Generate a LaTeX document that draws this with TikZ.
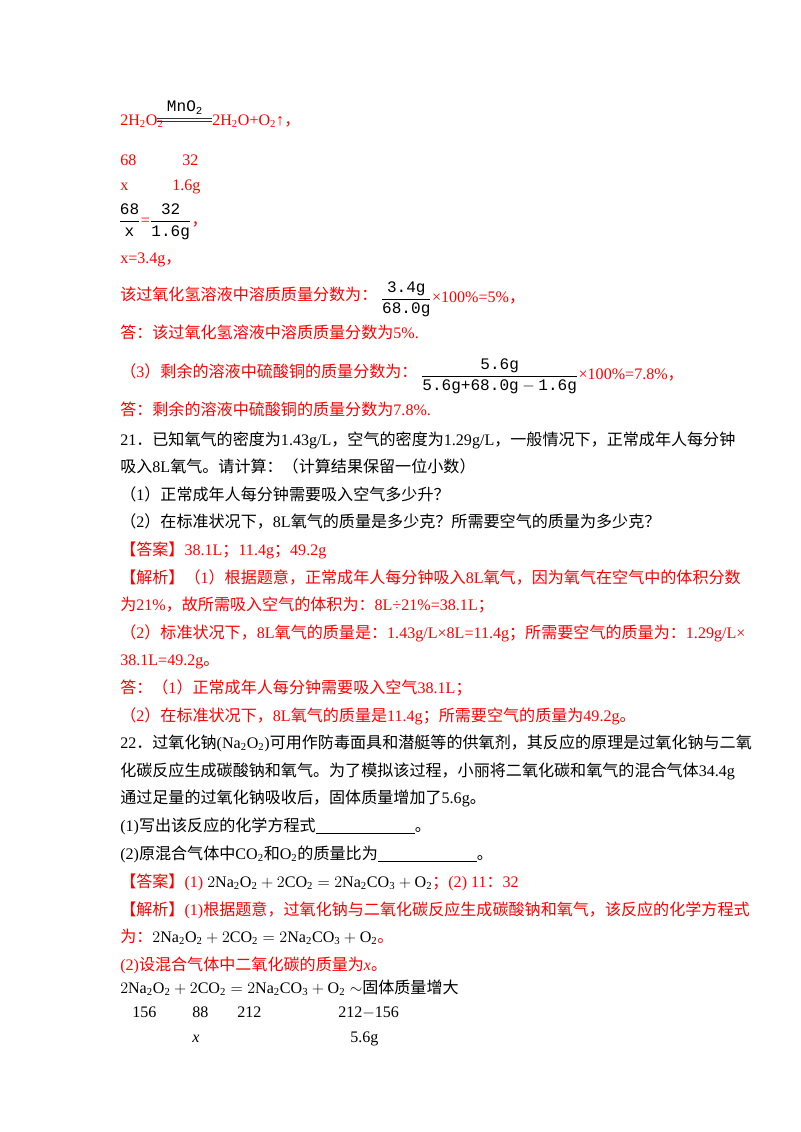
\documentclass[tikz,border=0pt]{standalone}
\usepackage{amsmath}
\usepackage{fontspec}
\setmainfont{Liberation Serif}
\setmonofont{Liberation Mono}
\newfontfamily\cjk{Noto Sans CJK SC}
% switch to the CJK font for CJK characters
\XeTeXinterchartokenstate=1
\newXeTeXintercharclass\cjkclass
\newcount\cc
\def\setcjkrange#1#2{\cc=#1 \loop\XeTeXcharclass\cc=\cjkclass \advance\cc 1 \ifnum\cc<#2 \repeat}
\setcjkrange{"4E00}{"A000}
\setcjkrange{"3000}{"3040}
\setcjkrange{"FF00}{"FF60}
\XeTeXinterchartoks 0 \cjkclass = {\begingroup\cjk}
\XeTeXinterchartoks 4095 \cjkclass = {\begingroup\cjk}
\XeTeXinterchartoks \cjkclass 0 = {\endgroup}
\XeTeXinterchartoks \cjkclass 4095 = {\endgroup}
\usetikzlibrary{positioning}

\tikzset{
  txt/.style={anchor=base west, inner sep=0pt, font=\fontsize{12}{14}\selectfont},
  ans/.style={txt, text=red},
  fr/.style={txt, anchor=west}
}
\newcommand{\ch}[1]{\ensuremath{\mathrm{#1}}}

\begin{document}
\begin{tikzpicture}[x=0.02625cm, y=-0.02625cm]
  \useasboundingbox (0,0) rectangle (800,1132);

  %% (2) answer of 20
  \node[ans] (eqa) at (120,125) {2H\textsubscript{2}O\textsubscript{2}};
  \coordinate (eql) at (157,120);
  \coordinate (eqm) at (212,120);
  \draw[black!80, line width=0.7pt] ([yshift=-1.3pt]eql) -- ([yshift=-1.3pt]eqm);
  \draw[black!80, line width=0.7pt] ([yshift=1.3pt]eql) -- ([yshift=1.3pt]eqm);
  \node[txt, anchor=south, inner sep=1pt] (mno) at (185,116) {\texttt{MnO\textsubscript{2}}};
  \node[ans] (eqb) at (212,125) {2H\textsubscript{2}O+O\textsubscript{2}↑，};

  \node[ans] (m1) at (120,165) {68};
  \node[ans] (m2) at (182,165) {32};
  \node[ans] (x1) at (120,190) {x};
  \node[ans] (x2) at (172,190) {1.6g};
  \node[fr] (pr) at (118,222) {$\dfrac{\texttt{68}}{\texttt{x}}$\textcolor{red}{=}$\dfrac{\texttt{32}}{\texttt{1.6g}}$\textcolor{red}{，}};
  \node[ans] (xs) at (120,263) {x=3.4g，};
  \node[ans] (p1) at (120,300) {该过氧化氢溶液中溶质质量分数为：};
  \node[fr, right=2pt of p1.east, anchor=west, yshift=-4pt] (p1f) {$\dfrac{\texttt{3.4g}}{\texttt{68.0g}}$\textcolor{red}{×100\%=5\%，}};
  \node[ans] (a1) at (120,338) {答：该过氧化氢溶液中溶质质量分数为5\%.};
  \node[ans] (p3) at (120,377) {（3）剩余的溶液中硫酸铜的质量分数为：};
  \node[fr, right=2pt of p3.east, anchor=west, yshift=-4pt] (p3f) {$\dfrac{\texttt{5.6g}}{\texttt{5.6g+68.0g}-\texttt{1.6g}}$\textcolor{red}{×100\%=7.8\%，}};
  \node[ans] (a3) at (120,415) {答：剩余的溶液中硫酸铜的质量分数为7.8\%.};

  %% 21
  \node[txt] (q21) at (120,445) {21．已知氧气的密度为1.43g/L，空气的密度为1.29g/L，一般情况下，正常成年人每分钟};
  \node[txt] (q21b) at (120,472) {吸入8L氧气。请计算：（计算结果保留一位小数）};
  \node[txt] (q21c) at (120,500) {（1）正常成年人每分钟需要吸入空气多少升？};
  \node[txt] (q21d) at (120,527) {（2）在标准状况下，8L氧气的质量是多少克？所需要空气的质量为多少克？};
  \node[ans] (k21) at (120,555) {【答案】38.1L；11.4g；49.2g};
  \node[ans] (j21) at (120,583) {【解析】（1）根据题意，正常成年人每分钟吸入8L氧气，因为氧气在空气中的体积分数};
  \node[ans] (j21b) at (120,610) {为21\%，故所需吸入空气的体积为：8L÷21\%=38.1L；};
  \node[ans] (j21c) at (120,638) {（2）标准状况下，8L氧气的质量是：1.43g/L×8L=11.4g；所需要空气的质量为：1.29g/L×};
  \node[ans] (j21d) at (120,665) {38.1L=49.2g。};
  \node[ans] (d21) at (120,693) {答：（1）正常成年人每分钟需要吸入空气38.1L；};
  \node[ans] (d21b) at (120,721) {（2）在标准状况下，8L氧气的质量是11.4g；所需要空气的质量为49.2g。};

  %% 22
  \node[txt] (q22) at (120,748) {22．过氧化钠(Na\textsubscript{2}O\textsubscript{2})可用作防毒面具和潜艇等的供氧剂，其反应的原理是过氧化钠与二氧};
  \node[txt] (q22b) at (120,776) {化碳反应生成碳酸钠和氧气。为了模拟该过程，小丽将二氧化碳和氧气的混合气体34.4g};
  \node[txt] (q22c) at (120,803) {通过足量的过氧化钠吸收后，固体质量增加了5.6g。};
  \node[txt] (q22d) at (120,831) {(1)写出该反应的化学方程式\underline{\hspace{2.6cm}}。};
  \node[txt] (q22e) at (120,859) {(2)原混合气体中CO\textsubscript{2}和O\textsubscript{2}的质量比为\underline{\hspace{2.6cm}}。};
  \node[ans] (k22) at (120,887) {【答案】(1) \textcolor{black}{$2\ch{Na_2O_2}+2\ch{CO_2}=2\ch{Na_2CO_3}+\ch{O_2}$}；(2) 11：32};
  \node[ans] (j22) at (120,915) {【解析】(1)根据题意，过氧化钠与二氧化碳反应生成碳酸钠和氧气，该反应的化学方程式};
  \node[ans] (j22b) at (120,942) {为：\textcolor{black}{$2\ch{Na_2O_2}+2\ch{CO_2}=2\ch{Na_2CO_3}+\ch{O_2}$}。};
  \node[ans] (j22c) at (120,970) {(2)设混合气体中二氧化碳的质量为\textit{x}。};
  \node[txt] (r0) at (120,993) {$2\ch{Na_2O_2}+2\ch{CO_2}=2\ch{Na_2CO_3}+\ch{O_2}\sim$固体质量增大};
  \node[txt] (r1) at (132,1017) {156};
  \node[txt] (r2) at (192,1017) {88};
  \node[txt] (r3) at (237,1017) {212};
  \node[txt] (r4) at (338,1017) {212$-$156};
  \node[txt] (r5) at (192,1042) {\textit{x}};
  \node[txt] (r6) at (350,1042) {5.6g};
\end{tikzpicture}
\end{document}
